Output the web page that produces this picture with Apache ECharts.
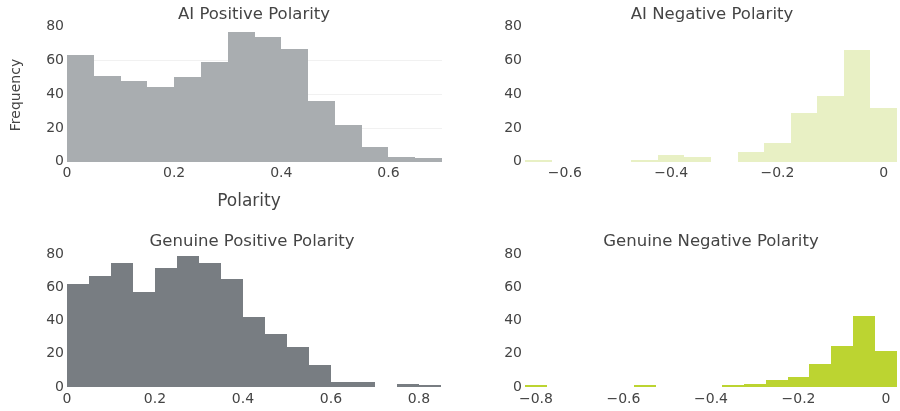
<!DOCTYPE html>
<html>
<head>
<meta charset="utf-8">
<script src="https://cdn.jsdelivr.net/npm/echarts@6/dist/echarts.min.js"></script>
<style>
  html, body { margin: 0; padding: 0; background: #fff; }
  #chart { width: 900px; height: 411px; }
</style>
</head>
<body>
<div id="chart"></div>
<script>
// Histogram bins: each panel has a first edge, a bin width and the counts per bin.
var binWidth = 0.05;

var aiPosStart = 0;
var aiPosCounts = [63, 51, 48, 44, 50, 59, 77, 74, 67, 36, 22, 9, 3, 2];

var aiNegStart = -0.675;
var aiNegCounts = [1, 0, 0, 0, 1, 4, 3, 0, 6, 11, 29, 39, 66, 32];

var genPosStart = 0;
var genPosCounts = [62, 67, 75, 57, 72, 79, 75, 65, 42, 32, 24, 13, 3, 3, 0, 2, 1];

var genNegStart = -0.825;
var genNegCounts = [1, 0, 0, 0, 0, 1, 0, 0, 0, 1, 2, 4, 6, 14, 25, 43, 22];

var panelTitles = ['AI Positive Polarity', 'AI Negative Polarity', 'Genuine Positive Polarity', 'Genuine Negative Polarity'];
var yTicks = [0, 20, 40, 60, 80];

var FONT = 'DejaVu Sans';
var TEXT = '#444';

function toBins(start, counts) {
  var out = [];
  counts.forEach(function (c, i) {
    if (c > 0) {
      var x0 = +(start + i * binWidth).toFixed(4);
      out.push([x0, +(x0 + binWidth).toFixed(4), c]);
    }
  });
  return out;
}

// Bars are snapped to whole pixels so neighbouring bins join without seams.
function histRenderer(color) {
  return function (params, api) {
    var top = api.coord([api.value(0), api.value(2)]);
    var base = api.coord([api.value(1), 0]);
    var x0 = Math.round(top[0]), x1 = Math.round(base[0]);
    var y0 = Math.round(top[1]), y1 = Math.round(base[1]);
    if (y1 - y0 < 1) y0 = y1 - 1;
    return {
      type: 'rect',
      shape: { x: x0, y: y0, width: x1 - x0, height: y1 - y0 },
      style: { fill: color }
    };
  };
}

function tickText(v) {
  var r = v / 0.2;
  if (Math.abs(r - Math.round(r)) > 1e-6) return '';
  if (Math.abs(v) < 1e-9) return '0';
  return v.toFixed(1).replace('-', '\u2212');
}

function xAxis(idx, min, max) {
  return {
    type: 'value', gridIndex: idx, min: min, max: max, interval: 0.025,
    axisLine: { show: false }, axisTick: { show: false }, splitLine: { show: false },
    axisLabel: { formatter: tickText, color: TEXT, fontFamily: FONT, fontSize: 14, margin: 5 }
  };
}

function yAxis(idx, grid) {
  return {
    type: 'value', gridIndex: idx, min: yTicks[0], max: yTicks[yTicks.length - 1], interval: 20,
    axisLine: { show: false }, axisTick: { show: false },
    splitLine: { show: grid, lineStyle: { color: ['rgba(0,0,0,0)', '#f1f1f1', '#f1f1f1', '#f1f1f1', 'rgba(0,0,0,0)'], width: 1 } },
    axisLabel: { color: TEXT, fontFamily: FONT, fontSize: 14, margin: 3 }
  };
}

var titlePos = [[254, 15], [712, 15], [252, 242], [711, 242]];

var chart = echarts.init(document.getElementById('chart'), null, { renderer: 'canvas' });
chart.setOption({
  animation: false,
  backgroundColor: '#fff',
  grid: [
    { left: 67, top: 26.7, width: 375, height: 135 },
    { left: 525, top: 26.7, width: 373, height: 135 },
    { left: 67, top: 254.3, width: 374, height: 132.7 },
    { left: 525, top: 254.3, width: 373, height: 132.7 }
  ],
  xAxis: [
    xAxis(0, 0, 0.7),
    xAxis(1, -0.675, 0.025),
    xAxis(2, 0, 0.85),
    xAxis(3, -0.825, 0.025)
  ],
  yAxis: [yAxis(0, true), yAxis(1, false), yAxis(2, false), yAxis(3, false)],
  graphic: panelTitles.map(function (t, i) {
    return {
      type: 'text', x: titlePos[i][0], y: titlePos[i][1],
      style: { text: t, fill: TEXT, font: '16.5px "' + FONT + '"', textAlign: 'center', textVerticalAlign: 'middle' }
    };
  }).concat([
    {
      type: 'text', x: 249, y: 202,
      style: { text: 'Polarity', fill: TEXT, font: '17px "' + FONT + '"', textAlign: 'center', textVerticalAlign: 'middle' }
    },
    {
      type: 'text', x: 16, y: 95, rotation: Math.PI / 2,
      style: { text: 'Frequency', fill: TEXT, font: '14px "' + FONT + '"', textAlign: 'center', textVerticalAlign: 'middle' }
    }
  ]),
  series: [
    { type: 'custom', xAxisIndex: 0, yAxisIndex: 0, renderItem: histRenderer('#a9adb0'), data: toBins(aiPosStart, aiPosCounts) },
    { type: 'custom', xAxisIndex: 1, yAxisIndex: 1, renderItem: histRenderer('#e8f0c4'), data: toBins(aiNegStart, aiNegCounts) },
    { type: 'custom', xAxisIndex: 2, yAxisIndex: 2, renderItem: histRenderer('#787d82'), data: toBins(genPosStart, genPosCounts) },
    { type: 'custom', xAxisIndex: 3, yAxisIndex: 3, renderItem: histRenderer('#bcd431'), data: toBins(genNegStart, genNegCounts) }
  ]
});
</script>
</body>
</html>
